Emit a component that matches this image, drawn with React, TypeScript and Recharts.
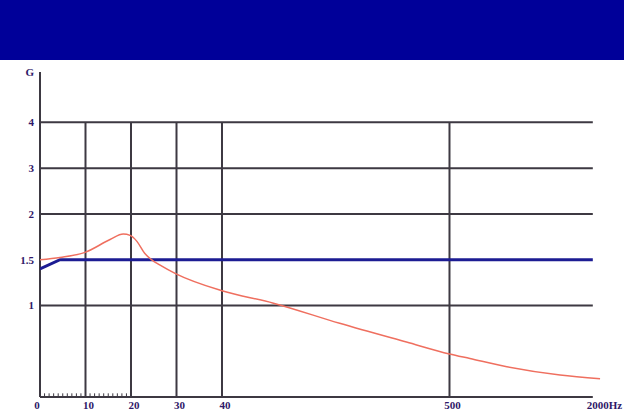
import React from 'react';
import {
    ComposedChart,
    Line,
    XAxis,
    YAxis,
    ReferenceLine,
} from 'recharts';

// frequency (Hz) and acceleration (G)
const responseHz = [0, 4.4, 9.9, 15.4, 18.3, 19.8, 21.3, 23.0, 24.5, 26.4, 29.9, 40, 144, 278, 413, 500, 714, 1100, 1657, 2076];
const responseG = [1.5, 1.525, 1.58, 1.72, 1.78, 1.765, 1.7, 1.57, 1.5, 1.44, 1.345, 1.16, 1.025, 0.805, 0.6, 0.47, 0.42, 0.33, 0.24, 0.2];

const limitHz = [0, 4.4, 2000];
const limitG = [1.4, 1.5, 1.5];

const xTickHz = [0, 10, 20, 30, 40, 500, 2000];
const xTickLabels = ['0', '10', '20', '30', '40', '500', '2000Hz'];
const gridHz = [10, 20, 30, 40, 500];
const minorHz = [1, 2, 3, 4, 5, 6, 7, 8, 9, 11, 12, 13, 14, 15, 16, 17, 18, 19];

const yTickG = [1, 1.5, 2, 3, 4];
const yTickLabels = ['1', '1.5', '2', '3', '4'];
const gridG = [1, 2, 3, 4];

// the axes are not linear: both are drawn on evenly spaced steps
const hzKnots = [0, 10, 20, 30, 40, 500, 2000];
const hzSteps = [0, 1, 2, 3, 4, 9, 12.15];
const gKnots = [0, 1, 1.5, 2, 3, 4];
const gSteps = [0, 2, 3, 4, 5, 6];

const interp = (v: number, from: number[], to: number[]) => {
    let i = 0;
    while (i < from.length - 2 && v > from[i + 1]) i++;
    const t = (v - from[i]) / (from[i + 1] - from[i]);
    return to[i] + t * (to[i + 1] - to[i]);
};
const hx = (hz: number) => interp(hz, hzKnots, hzSteps);
const gy = (g: number) => interp(g, gKnots, gSteps);

const responseData = responseHz.map((hz, i) => ({ x: hx(hz), y: gy(responseG[i]) }));
const limitData = limitHz.map((hz, i) => ({ x: hx(hz), y: gy(limitG[i]) }));

const X_MAX = 12.33;
const Y_MAX = 7.1;
const xEnd = hx(2000);

const GRID = '#3d3942';
const TEXT = '#2f1868';
const FONT = '"Liberation Serif", serif';

const XTick = (props: any) => {
    const { x, y, index } = props;
    const last = index === xTickLabels.length - 1;
    const dx = index === 0 ? -3 : 3;
    return (
        <text
            x={last ? x - 6 : x + dx}
            y={y + 12}
            textAnchor={last ? 'start' : 'middle'}
            fill={TEXT}
            fontFamily={FONT}
            fontWeight="bold"
            fontSize={11}
        >
            {xTickLabels[index]}
        </text>
    );
};

const YTick = (props: any) => {
    const { y, payload } = props;
    const i = yTickG.findIndex(g => Math.abs(gy(g) - payload.value) < 1e-6);
    const label = i >= 0 ? yTickLabels[i] : 'G';
    return (
        <text x={34} y={y + 4} textAnchor="end" fill={TEXT} fontFamily={FONT} fontWeight="bold" fontSize={11}>
            {label}
        </text>
    );
};

export default function App() {
    return (
        <div style={{ position: 'relative', width: 624, height: 417, background: '#fff' }}>
            <style>{'body{margin:0}'}</style>
            <div style={{ position: 'absolute', left: 0, top: 0, width: 624, height: 60, background: '#000099' }} />
            <div style={{ position: 'absolute', left: 0, top: 0 }}>
                <ComposedChart width={624} height={417} margin={{ top: 72, right: 23, bottom: 0, left: 0 }}>
                    <XAxis
                        type="number"
                        dataKey="x"
                        domain={[0, X_MAX]}
                        ticks={xTickHz.map(hx)}
                        tick={<XTick />}
                        tickLine={false}
                        axisLine={false}
                        tickSize={0}
                        tickMargin={0}
                        height={20}
                        interval={0}
                        allowDataOverflow
                    />
                    <YAxis
                        type="number"
                        domain={[0, Y_MAX]}
                        ticks={[...yTickG.map(gy), Y_MAX]}
                        tick={<YTick />}
                        tickLine={false}
                        axisLine={false}
                        width={40}
                        interval={0}
                        allowDataOverflow
                    />
                    {gridG.map(g => (
                        <ReferenceLine key={'h' + g} segment={[{ x: 0, y: gy(g) }, { x: xEnd, y: gy(g) }]} stroke={GRID} strokeWidth={2} />
                    ))}
                    {gridHz.map(hz => (
                        <ReferenceLine key={'v' + hz} segment={[{ x: hx(hz), y: 0 }, { x: hx(hz), y: gy(4) }]} stroke={GRID} strokeWidth={2} />
                    ))}
                    {minorHz.map(hz => (
                        <ReferenceLine key={'m' + hz} segment={[{ x: hx(hz), y: 0 }, { x: hx(hz), y: 0.08 }]} stroke={GRID} strokeWidth={1} />
                    ))}
                    <ReferenceLine segment={[{ x: 0, y: 0 }, { x: xEnd, y: 0 }]} stroke={GRID} strokeWidth={2} />
                    <ReferenceLine segment={[{ x: 0, y: 0 }, { x: 0, y: Y_MAX }]} stroke={GRID} strokeWidth={2} />
                    <Line
                        data={limitData}
                        dataKey="y"
                        type="linear"
                        stroke="#1c1c93"
                        strokeWidth={3}
                        dot={false}
                        isAnimationActive={false}
                    />
                    <Line
                        data={responseData}
                        dataKey="y"
                        type="monotone"
                        stroke="#ef6f5f"
                        strokeWidth={1.5}
                        dot={false}
                        isAnimationActive={false}
                    />
                </ComposedChart>
            </div>
        </div>
    );
}
